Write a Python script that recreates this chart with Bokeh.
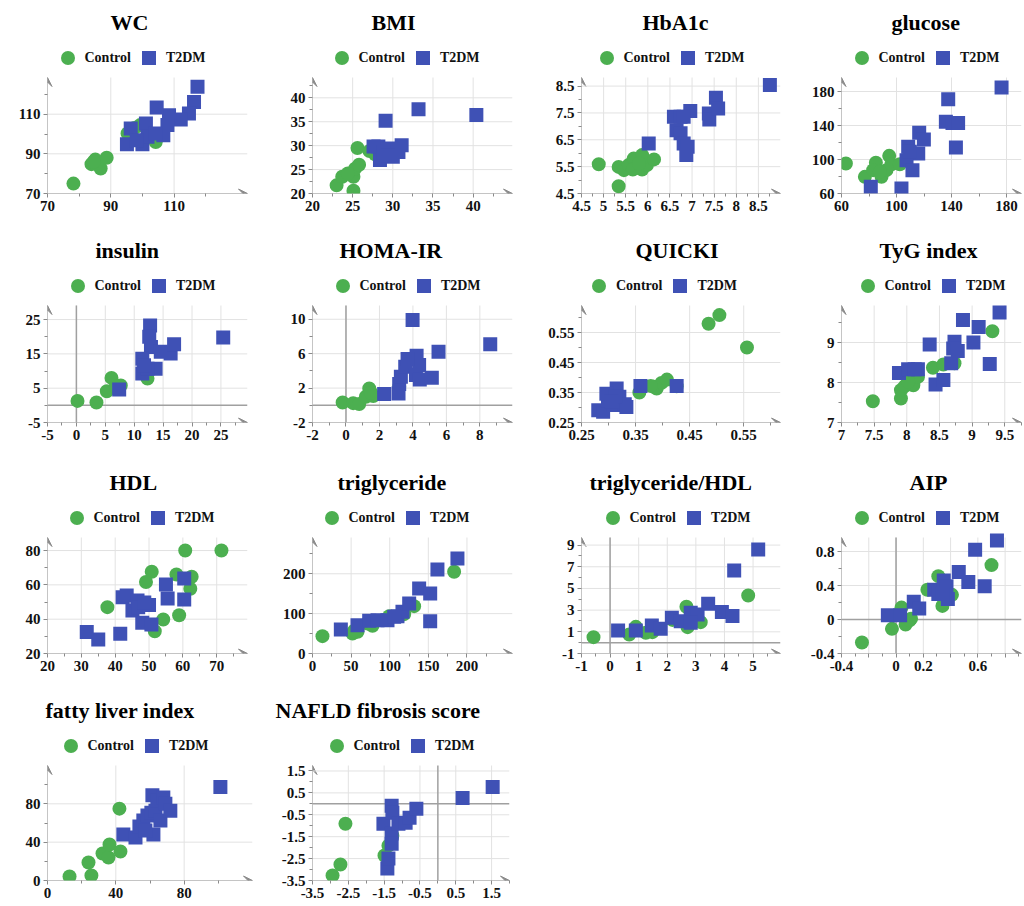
from bokeh.plotting import figure
from bokeh.layouts import gridplot
from bokeh.models import Range1d, FixedTicker, Legend, LegendItem, Arrow, VeeHead
from bokeh.embed import file_html
from bokeh.resources import INLINE

GREEN = "#4caf50"
BLUE = "#3f51b5"
AXIS = "#8a8a8a"
ZERO = "#a0a0a0"
GRID = "#e2e2e2"
FONT = "Liberation Serif"

series_names = ["Control", "T2DM"]

# ---------------- data ----------------
wc_ctrl_x = [78.2, 83.9, 85.1, 86.8, 88.7, 95.3, 99.3, 104.2, 84.6, 97.5]
wc_ctrl_y = [75.0, 84.8, 87.1, 82.6, 88.0, 100.3, 104.5, 96.0, 86.0, 103.0]
wc_t2_x = [117.4, 116.3, 114.7, 112.1, 108.4, 104.5, 101.1, 96.3, 95.1, 100.0, 101.6, 106.6, 107.9, 98.2, 104.2]
wc_t2_y = [123.8, 116.2, 110.3, 107.3, 109.5, 113.4, 105.3, 102.8, 94.9, 94.9, 98.6, 99.4, 104.5, 96.9, 100.3]

bmi_ctrl_x = [23.0, 23.7, 25.1, 25.1, 25.3, 25.8, 25.6, 27.1, 27.8, 24.4]
bmi_ctrl_y = [21.7, 23.5, 20.6, 23.5, 25.2, 26.0, 29.5, 28.9, 28.2, 24.2]
bmi_t2_x = [40.4, 33.2, 29.1, 28.2, 28.4, 30.0, 31.1, 29.6, 30.7, 27.6, 28.8, 29.4]
bmi_t2_y = [36.4, 37.6, 35.2, 29.8, 27.0, 27.7, 30.1, 29.4, 28.7, 29.8, 28.7, 28.0]

hba_ctrl_x = [4.89, 5.34, 5.34, 5.46, 5.57, 5.68, 5.66, 5.87, 5.87, 5.98, 6.14, 5.80]
hba_ctrl_y = [5.59, 4.77, 5.49, 5.37, 5.56, 5.80, 5.39, 5.93, 5.39, 5.56, 5.77, 5.62]
hba_t2_x = [6.02, 6.59, 6.74, 6.96, 6.81, 6.65, 6.74, 6.81, 6.90, 6.87, 7.38, 7.39, 7.54, 7.59, 8.76]
hba_t2_y = [6.36, 7.36, 7.36, 7.57, 7.36, 6.86, 6.74, 6.36, 6.24, 5.93, 7.48, 7.26, 8.07, 7.67, 8.54]

glu_ctrl_x = [63.2, 77.0, 85.0, 83.0, 89.1, 92.7, 94.7, 96.4, 102.4, 87.9]
glu_ctrl_y = [95.3, 79.6, 96.1, 87.5, 79.6, 87.5, 104.3, 94.5, 94.5, 85.5]
glu_t2_x = [176.4, 137.6, 135.9, 140.7, 144.8, 143.2, 116.5, 119.9, 108.5, 115.8, 107.3, 111.6, 81.3, 103.6, 109.7]
glu_t2_y = [184.7, 171.0, 144.3, 143.1, 143.1, 114.1, 131.4, 123.5, 114.9, 107.1, 99.2, 87.5, 67.8, 65.9, 109.0]

ins_ctrl_x = [0.19, 3.47, 5.26, 6.07, 7.68, 12.3, 6.8]
ins_ctrl_y = [1.3, 0.83, 4.1, 8.0, 5.8, 7.8, 5.4]
ins_t2_x = [25.4, 7.4, 12.75, 12.6, 12.9, 11.4, 11.4, 13.7, 14.6, 16.3, 16.9, 12.3, 11.7]
ins_t2_y = [19.8, 4.6, 23.3, 20.0, 17.0, 13.6, 9.3, 10.7, 15.6, 15.1, 17.8, 10.7, 11.7]

homa_ctrl_x = [-0.2, 0.43, 0.79, 1.19, 1.39, 1.63, 1.5, 3.18]
homa_ctrl_y = [0.33, 0.25, 0.14, 1.0, 1.96, 1.07, 1.45, 2.16]
homa_t2_x = [2.28, 3.14, 3.18, 3.28, 3.54, 3.98, 4.22, 4.37, 4.18, 4.41, 5.13, 5.53, 8.62, 3.68]
homa_t2_y = [1.3, 1.38, 2.47, 3.32, 4.49, 9.92, 5.77, 4.68, 3.52, 3.0, 3.2, 6.23, 7.09, 5.38]

qui_ctrl_x = [0.505, 0.485, 0.556, 0.357, 0.384, 0.389, 0.398, 0.408, 0.426, 0.378]
qui_ctrl_y = [0.608, 0.579, 0.500, 0.350, 0.369, 0.363, 0.382, 0.393, 0.371, 0.372]
qui_t2_x = [0.359, 0.426, 0.315, 0.281, 0.290, 0.299, 0.296, 0.309, 0.320, 0.330, 0.333, 0.312, 0.306]
qui_t2_y = [0.372, 0.372, 0.363, 0.291, 0.286, 0.324, 0.346, 0.308, 0.336, 0.311, 0.302, 0.336, 0.319]

tyg_ctrl_x = [7.48, 7.91, 7.91, 7.97, 8.10, 8.17, 8.40, 8.56, 8.73, 9.31, 8.02]
tyg_ctrl_y = [7.53, 7.60, 7.81, 7.91, 7.93, 8.14, 8.37, 8.45, 8.48, 9.28, 8.02]
tyg_t2_x = [7.88, 8.02, 8.17, 8.35, 8.44, 8.56, 8.68, 8.73, 8.71, 8.78, 8.86, 9.02, 9.10, 9.27, 9.42, 8.12]
tyg_t2_y = [8.24, 8.33, 8.33, 8.95, 7.95, 8.06, 8.48, 9.02, 8.85, 8.79, 9.56, 9.00, 9.39, 8.46, 9.75, 8.33]

hdl_ctrl_x = [60.7, 71.4, 50.8, 49.1, 58.1, 62.6, 62.2, 37.7, 58.9, 54.2, 51.7]
hdl_ctrl_y = [80.0, 80.0, 67.6, 61.7, 66.0, 64.7, 57.7, 47.0, 42.3, 39.8, 33.0]
hdl_t2_x = [31.6, 35.0, 41.5, 42.2, 43.4, 45.1, 46.6, 46.8, 50.0, 48.0, 50.7, 55.0, 55.5, 60.4, 60.4, 48.6]
hdl_t2_y = [32.6, 28.2, 31.5, 52.8, 53.8, 45.0, 50.9, 47.0, 48.2, 37.9, 36.9, 60.2, 52.0, 51.5, 63.7, 49.7]

tg_ctrl_x = [12.9, 51.8, 58.3, 77.7, 99.3, 118.7, 131.6, 183.4, 54.0, 71.2]
tg_ctrl_y = [43.5, 50.2, 54.4, 69.5, 93.7, 98.7, 118.8, 205.0, 56.9, 75.3]
tg_t2_x = [36.7, 58.3, 73.4, 84.2, 97.1, 110.0, 116.5, 125.2, 138.1, 152.4, 152.4, 161.8, 187.7, 105.7]
tg_t2_y = [60.3, 71.1, 82.0, 83.7, 83.7, 93.7, 104.6, 125.5, 163.2, 150.6, 81.2, 210.9, 238.5, 92.0]

tgh_ctrl_x = [-0.58, 0.67, 0.90, 1.25, 1.48, 2.67, 2.71, 3.17, 4.83, 2.18]
tgh_ctrl_y = [0.51, 0.75, 1.46, 0.91, 0.97, 3.31, 1.43, 1.89, 4.35, 2.10]
tgh_t2_x = [0.28, 0.90, 1.46, 1.77, 2.16, 2.47, 2.82, 3.06, 2.82, 3.43, 3.91, 4.28, 4.34, 5.18]
tgh_t2_y = [1.12, 1.12, 1.58, 1.28, 2.29, 1.98, 2.75, 2.60, 1.83, 3.58, 2.82, 2.45, 6.66, 8.60]

aip_ctrl_x = [-0.25, -0.03, 0.04, 0.07, 0.11, 0.23, 0.31, 0.34, 0.41, 0.70, 0.10]
aip_ctrl_y = [-0.27, -0.11, 0.14, -0.06, 0.01, 0.35, 0.51, 0.16, 0.29, 0.64, -0.01]
aip_t2_x = [-0.06, 0.03, 0.13, 0.17, 0.28, 0.31, 0.35, 0.37, 0.38, 0.34, 0.46, 0.53, 0.58, 0.65, 0.74]
aip_t2_y = [0.05, 0.05, 0.21, 0.13, 0.35, 0.30, 0.46, 0.39, 0.24, 0.30, 0.56, 0.44, 0.82, 0.39, 0.93]

fli_ctrl_x = [12.9, 24.0, 25.7, 32.2, 35.7, 36.3, 42.1, 42.7]
fli_ctrl_y = [4.2, 18.8, 5.2, 28.1, 24.0, 37.5, 75.0, 30.2]
fli_t2_x = [44.4, 51.5, 53.8, 56.1, 58.5, 60.8, 63.2, 61.4, 64.3, 67.8, 69.0, 66.1, 62.0, 71.9, 57.3, 101.2]
fli_t2_y = [47.9, 44.8, 56.3, 62.5, 67.7, 70.8, 72.9, 89.0, 83.3, 86.5, 80.2, 62.5, 47.9, 72.9, 52.1, 97.5]

nfs_ctrl_x = [-2.94, -2.72, -2.58, -1.49, -1.38, -1.27]
nfs_ctrl_y = [-3.27, -2.77, -0.91, -2.36, -1.91, -1.45]
nfs_t2_x = [-1.52, -1.41, -1.29, -1.29, -1.27, -1.10, -0.90, -0.79, -0.60, -1.38, -1.29, 0.69, 1.53]
nfs_t2_y = [-0.91, -2.95, -1.36, -0.09, -0.41, -0.91, -0.86, -0.64, -0.23, -2.50, -1.82, 0.27, 0.77]

# tick values and tick labels
wc_xt = [70, 90, 110]; wc_xl = ["70", "90", "110"]
wc_yt = [70, 90, 110]; wc_yl = ["70", "90", "110"]
bmi_xt = [20, 25, 30, 35, 40]; bmi_xl = ["20", "25", "30", "35", "40"]
bmi_yt = [20, 25, 30, 35, 40]; bmi_yl = ["20", "25", "30", "35", "40"]
hba_xt = [4.5, 5.0, 5.5, 6.0, 6.5, 7.0, 7.5, 8.0, 8.5]
hba_xl = ["4.5", "5", "5.5", "6", "6.5", "7", "7.5", "8", "8.5"]
hba_yt = [4.5, 5.5, 6.5, 7.5, 8.5]; hba_yl = ["4.5", "5.5", "6.5", "7.5", "8.5"]
glu_xt = [60, 100, 140, 180]; glu_xl = ["60", "100", "140", "180"]
glu_yt = [60, 100, 140, 180]; glu_yl = ["60", "100", "140", "180"]
ins_xt = [-5, 0, 5, 10, 15, 20, 25]; ins_xl = ["-5", "0", "5", "10", "15", "20", "25"]
ins_yt = [-5, 5, 15, 25]; ins_yl = ["-5", "5", "15", "25"]
homa_xt = [-2, 0, 2, 4, 6, 8]; homa_xl = ["-2", "0", "2", "4", "6", "8"]
homa_yt = [-2, 2, 6, 10]; homa_yl = ["-2", "2", "6", "10"]
qui_xt = [0.25, 0.35, 0.45, 0.55]; qui_xl = ["0.25", "0.35", "0.45", "0.55"]
qui_yt = [0.25, 0.35, 0.45, 0.55]; qui_yl = ["0.25", "0.35", "0.45", "0.55"]
tyg_xt = [7.0, 7.5, 8.0, 8.5, 9.0, 9.5]; tyg_xl = ["7", "7.5", "8", "8.5", "9", "9.5"]
tyg_yt = [7, 8, 9]; tyg_yl = ["7", "8", "9"]
hdl_xt = [20, 30, 40, 50, 60, 70]; hdl_xl = ["20", "30", "40", "50", "60", "70"]
hdl_yt = [20, 40, 60, 80]; hdl_yl = ["20", "40", "60", "80"]
tg_xt = [0, 50, 100, 150, 200]; tg_xl = ["0", "50", "100", "150", "200"]
tg_yt = [0, 100, 200]; tg_yl = ["0", "100", "200"]
tgh_xt = [-1, 0, 1, 2, 3, 4, 5]; tgh_xl = ["-1", "0", "1", "2", "3", "4", "5"]
tgh_yt = [-1, 1, 3, 5, 7, 9]; tgh_yl = ["-1", "1", "3", "5", "7", "9"]
aip_xt = [-0.4, -0.2, 0.0, 0.2, 0.4, 0.6, 0.8]; aip_xl = ["-0.4", "", "0", "0.2", "", "0.6", ""]
aip_yt = [-0.4, 0.0, 0.4, 0.8]; aip_yl = ["-0.4", "0", "0.4", "0.8"]
fli_xt = [0, 40, 80]; fli_xl = ["0", "40", "80"]
fli_yt = [0, 40, 80]; fli_yl = ["0", "40", "80"]
nfs_xt = [-3.5, -2.5, -1.5, -0.5, 0.5, 1.5]; nfs_xl = ["-3.5", "-2.5", "-1.5", "-0.5", "0.5", "1.5"]
nfs_yt = [-3.5, -2.5, -1.5, -0.5, 0.5, 1.5]; nfs_yl = ["-3.5", "-2.5", "-1.5", "-0.5", "0.5", "1.5"]

# axis ranges
wc_xr = (70, 133.2); wc_yr = (70, 128.5)
bmi_xr = (20, 44.9); bmi_yr = (20, 44.25)
hba_xr = (4.5, 9.0); hba_yr = (4.5, 8.82)
glu_xr = (60, 190.9); glu_yr = (60, 196.5)
ins_xr = (-5, 29.6); ins_yr = (-5, 29.1)
homa_xr = (-2, 9.95); homa_yr = (-2, 11.6)
qui_xr = (0.25, 0.618); qui_yr = (0.25, 0.64)
tyg_xr = (7, 9.756); tyg_yr = (7, 9.925)
hdl_xr = (20, 79.1); hdl_yr = (20, 87.6)
tg_xr = (0, 259); tg_yr = (0, 291)
tgh_xr = (-1, 5.96); tgh_yr = (-1, 9.7)
aip_xr = (-0.4, 0.92); aip_yr = (-0.4, 0.965)
fli_xr = (0, 120); fli_yr = (0, 120)
nfs_xr = (-3.5, 2.0); nfs_yr = (-3.5, 1.75)

# ---------------- layout geometry ----------------
LEG = 38  # band above the data area that holds the legend
# columns: (border left, plot width, border right, plot left on page)
C1 = (47, 200, 17, 47)
C2 = (48, 200, 33, 312)
C3 = (35, 199, 21, 580)
C4 = (40, 180, 2, 840)
CF = (42, 205, 17, 42)
CN = (39, 197, 45, 303)
# rows: (border top, data height, border bottom)
R1 = (39, 116, 36)
R2 = (38, 117, 38)
R3 = (39, 116, 37)
R4 = (37, 115, 24)


def minor_ticks(ticks, lo, hi):
    step = ticks[1] - ticks[0]
    out = []
    v = ticks[0] - step
    while v <= hi + 1e-9:
        m = round(v + step / 2.0, 6)
        if lo - 1e-9 <= m <= hi + 1e-9:
            out.append(m)
        v += step
    return out


def panel(title, cx, cy, tx, ty, xr, yr, xt, xl, yt, yl, col, rw, leg_circle_left, title_left, zero=False):
    bl, fw, br, fl = col
    bt, fh, bb = rw
    y_top = yr[1] + (yr[1] - yr[0]) * LEG / fh
    p = figure(frame_width=fw, frame_height=fh + LEG,
               x_range=Range1d(*xr), y_range=Range1d(yr[0], y_top),
               output_backend="svg", toolbar_location=None, title=title,
               min_border_left=bl, min_border_right=br,
               min_border_top=bt, min_border_bottom=bb)
    p.outline_line_color = None
    p.xgrid.visible = False
    p.ygrid.visible = False
    p.title.align = "left"
    p.title.offset = title_left - fl
    p.title.text_font = FONT
    p.title.text_font_style = "bold"
    p.title.text_font_size = "22px"
    p.title.text_color = "#000000"

    for ax, ticks, labels, lo, hi in [
        (p.xaxis[0], xt, xl, xr[0], xr[1]),
        (p.yaxis[0], yt, yl, yr[0], yr[1]),
    ]:
        ax.ticker = FixedTicker(ticks=ticks, minor_ticks=minor_ticks(ticks, lo, hi))
        ax.bounds = (lo, hi)
        ax.major_label_overrides = dict(zip(ticks, labels))
        ax.axis_line_color = None
        ax.major_tick_line_color = AXIS
        ax.minor_tick_line_color = AXIS
        ax.major_tick_in = 0
        ax.major_tick_out = 4
        ax.minor_tick_in = 0
        ax.minor_tick_out = 3
        ax.major_label_text_font = FONT
        ax.major_label_text_font_style = "bold"
        ax.major_label_text_font_size = "15px"
        ax.major_label_text_color = "#111111"
        ax.major_label_standoff = 3

    # grid lines limited to the data area
    gx = [t for t in xt if xr[0] < t <= xr[1]]
    gy = [t for t in yt if yr[0] < t <= yr[1]]
    p.segment(x0=gx, y0=[yr[0]] * len(gx), x1=gx, y1=[yr[1]] * len(gx), line_color=GRID, line_width=1)
    p.segment(x0=[xr[0]] * len(gy), y0=gy, x1=[xr[1]] * len(gy), y1=gy, line_color=GRID, line_width=1)

    if zero:
        p.segment(x0=[xr[0], 0], y0=[0, yr[0]], x1=[xr[1], 0], y1=[0, yr[1]], line_color=ZERO, line_width=1.5)

    p.add_layout(Arrow(end=VeeHead(size=9, line_color=AXIS, fill_color=AXIS, line_width=1),
                       x_start=xr[0], y_start=yr[0], x_end=xr[1], y_end=yr[0],
                       line_color=AXIS, line_width=1, level="underlay"))
    p.add_layout(Arrow(end=VeeHead(size=9, line_color=AXIS, fill_color=AXIS, line_width=1),
                       x_start=xr[0], y_start=yr[0], x_end=xr[0], y_end=yr[1],
                       line_color=AXIS, line_width=1, level="underlay"))

    rc = p.scatter(x=cx, y=cy, marker="circle", size=14, fill_color=GREEN, line_color=None)
    rt = p.scatter(x=tx, y=ty, marker="square", size=14, fill_color=BLUE, line_color=None)

    leg = Legend(items=[LegendItem(label=series_names[0], renderers=[rc]),
                        LegendItem(label=series_names[1], renderers=[rt])],
                 orientation="horizontal",
                 location=(max(0, leg_circle_left - 10.5 - fl), fh + 2),
                 border_line_color=None, background_fill_alpha=0,
                 glyph_width=35, glyph_height=35, label_standoff=-6, spacing=-2,
                 padding=0, margin=0,
                 label_text_font=FONT, label_text_font_style="bold",
                 label_text_font_size="14px", label_text_color="#111111")
    p.add_layout(leg)
    return p


p_wc = panel("WC", wc_ctrl_x, wc_ctrl_y, wc_t2_x, wc_t2_y, wc_xr, wc_yr, wc_xt, wc_xl, wc_yt, wc_yl, C1, R1, 60, 110)
p_bmi = panel("BMI", bmi_ctrl_x, bmi_ctrl_y, bmi_t2_x, bmi_t2_y, bmi_xr, bmi_yr, bmi_xt, bmi_xl, bmi_yt, bmi_yl, C2, R1, 334, 371)
p_hba = panel("HbA1c", hba_ctrl_x, hba_ctrl_y, hba_t2_x, hba_t2_y, hba_xr, hba_yr, hba_xt, hba_xl, hba_yt, hba_yl, C3, R1, 598, 641)
p_glu = panel("glucose", glu_ctrl_x, glu_ctrl_y, glu_t2_x, glu_t2_y, glu_xr, glu_yr, glu_xt, glu_xl, glu_yt, glu_yl, C4, R1, 853, 890)

p_ins = panel("insulin", ins_ctrl_x, ins_ctrl_y, ins_t2_x, ins_t2_y, ins_xr, ins_yr, ins_xt, ins_xl, ins_yt, ins_yl, C1, R2, 70, 95, zero=True)
p_homa = panel("HOMA-IR", homa_ctrl_x, homa_ctrl_y, homa_t2_x, homa_t2_y, homa_xr, homa_yr, homa_xt, homa_xl, homa_yt, homa_yl, C2, R2, 335, 339, zero=True)
p_qui = panel("QUICKI", qui_ctrl_x, qui_ctrl_y, qui_t2_x, qui_t2_y, qui_xr, qui_yr, qui_xt, qui_xl, qui_yt, qui_yl, C3, R2, 589, 634)
p_tyg = panel("TyG index", tyg_ctrl_x, tyg_ctrl_y, tyg_t2_x, tyg_t2_y, tyg_xr, tyg_yr, tyg_xt, tyg_xl, tyg_yt, tyg_yl, C4, R2, 859, 878)

p_hdl = panel("HDL", hdl_ctrl_x, hdl_ctrl_y, hdl_t2_x, hdl_t2_y, hdl_xr, hdl_yr, hdl_xt, hdl_xl, hdl_yt, hdl_yl, C1, R3, 69, 109)
p_tg = panel("triglyceride", tg_ctrl_x, tg_ctrl_y, tg_t2_x, tg_t2_y, tg_xr, tg_yr, tg_xt, tg_xl, tg_yt, tg_yl, C2, R3, 324, 337)
p_tgh = panel("triglyceride/HDL", tgh_ctrl_x, tgh_ctrl_y, tgh_t2_x, tgh_t2_y, tgh_xr, tgh_yr, tgh_xt, tgh_xl, tgh_yt, tgh_yl, C3, R3, 604, 588, zero=True)
p_aip = panel("AIP", aip_ctrl_x, aip_ctrl_y, aip_t2_x, aip_t2_y, aip_xr, aip_yr, aip_xt, aip_xl, aip_yt, aip_yl, C4, R3, 853, 908, zero=True)

p_fli = panel("fatty liver index", fli_ctrl_x, fli_ctrl_y, fli_t2_x, fli_t2_y, fli_xr, fli_yr, fli_xt, fli_xl, fli_yt, fli_yl, CF, R4, 58, 40)
p_nfs = panel("NAFLD fibrosis score", nfs_ctrl_x, nfs_ctrl_y, nfs_t2_x, nfs_t2_y, nfs_xr, nfs_yr, nfs_xt, nfs_xl, nfs_yt, nfs_yl, CN, R4, 320, 266, zero=True)

grid = gridplot([[p_wc, p_bmi, p_hba, p_glu],
                 [p_ins, p_homa, p_qui, p_tyg],
                 [p_hdl, p_tg, p_tgh, p_aip],
                 [p_fli, p_nfs, None, None]], toolbar_location=None)

open("out.html", "w").write(file_html(grid, INLINE))
